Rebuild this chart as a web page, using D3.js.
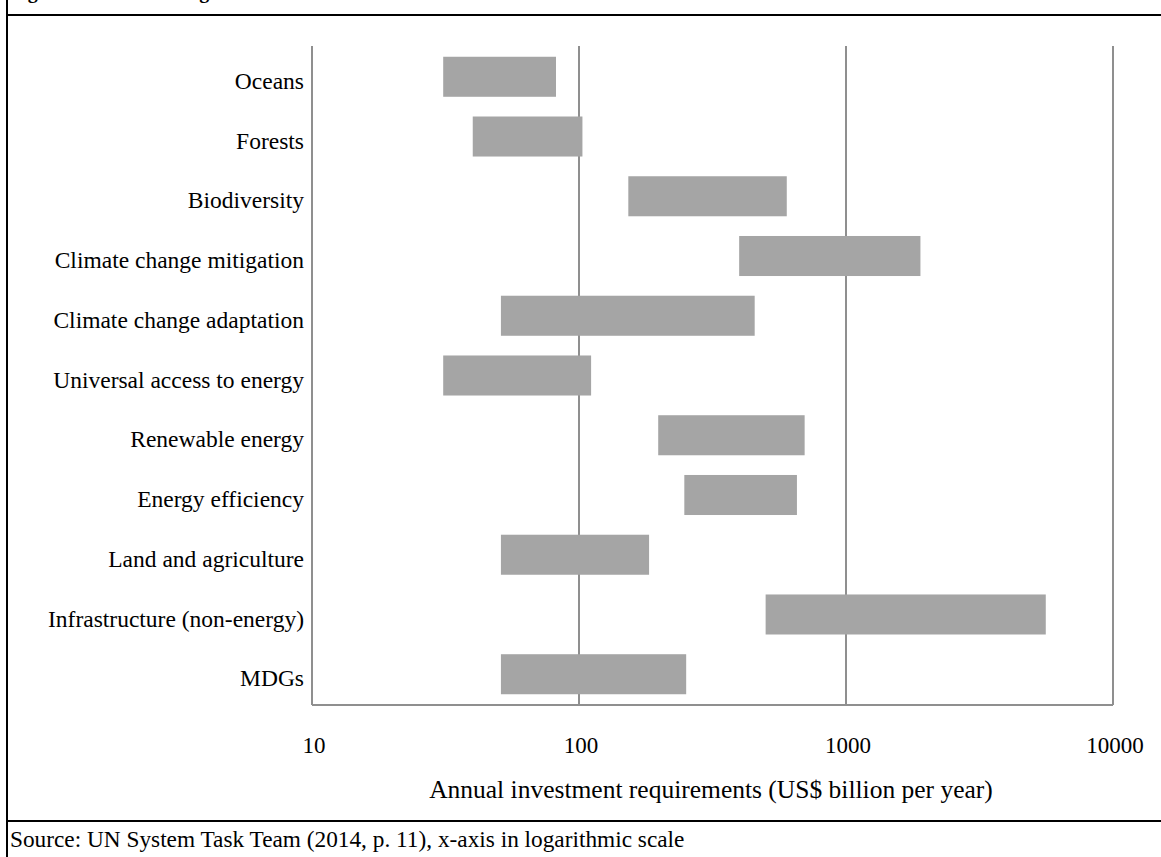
<!DOCTYPE html>
<html><head><meta charset="utf-8">
<script src="https://cdn.jsdelivr.net/npm/d3@7"></script>
<style>body{margin:0;background:#fff}svg{display:block}</style>
</head><body>
<script>
const categories = ["Oceans","Forests","Biodiversity","Climate change mitigation","Climate change adaptation","Universal access to energy","Renewable energy","Energy efficiency","Land and agriculture","Infrastructure (non-energy)","MDGs"];
const lowValues  = [31, 40, 153, 398, 51, 31, 198, 248, 51, 500, 51];
const highValues = [82, 103, 600, 1900, 455, 111, 700, 655, 183, 5600, 252];
const tickValues = [10, 100, 1000, 10000];
const titleText = "Figure 1: Order of magnitude of investment needs from the literature";
const axisTitle = "Annual investment requirements (US$ billion per year)";
const sourceText = "Source: UN System Task Team (2014, p. 11), x-axis in logarithmic scale";

const W = 1161, H = 857;
const svg = d3.select("body").append("svg").attr("width", W).attr("height", H);
const font = "'Liberation Serif','Times New Roman',serif";

// frame
svg.append("text").attr("x", 10).attr("y", -2).attr("font-family", font).attr("font-weight", "bold").attr("font-size", 20).attr("fill", "#000").text(titleText);
svg.append("line").attr("x1", 7).attr("x2", 7).attr("y1", 0).attr("y2", H).attr("stroke", "#000").attr("stroke-width", 2);
svg.append("line").attr("x1", 7).attr("x2", W).attr("y1", 15).attr("y2", 15).attr("stroke", "#000").attr("stroke-width", 2);
svg.append("line").attr("x1", 7).attr("x2", W).attr("y1", 821).attr("y2", 821).attr("stroke", "#000").attr("stroke-width", 2);

const x = d3.scaleLog().domain([10, 10000]).range([312, 1113]);
const y = d3.scaleBand().domain(categories).range([46, 705]).paddingInner(0.33).paddingOuter(0.18);

// gridlines
svg.append("g").selectAll("line").data(tickValues).join("line")
  .attr("x1", d => x(d)).attr("x2", d => x(d)).attr("y1", 46).attr("y2", 705)
  .attr("stroke", "#8f8f8f").attr("stroke-width", 2);
svg.append("line").attr("x1", x(10)).attr("x2", x(10000)).attr("y1", 705).attr("y2", 705)
  .attr("stroke", "#8f8f8f").attr("stroke-width", 2);

// bars
svg.append("g").selectAll("rect").data(categories).join("rect")
  .attr("x", (d, i) => x(lowValues[i]))
  .attr("width", (d, i) => x(highValues[i]) - x(lowValues[i]))
  .attr("y", d => y(d)).attr("height", y.bandwidth())
  .attr("fill", "#a5a5a5");

// category labels
svg.append("g").selectAll("text").data(categories).join("text")
  .attr("x", 304).attr("y", d => y(d) + y.bandwidth() / 2 + 4).attr("dy", "0.35em")
  .attr("text-anchor", "end").attr("font-family", font).attr("font-size", 23.5).attr("fill", "#000")
  .text(d => d);

// tick labels
svg.append("g").selectAll("text").data(tickValues).join("text")
  .attr("x", d => x(d) + 2).attr("y", 753).attr("text-anchor", "middle")
  .attr("font-family", font).attr("font-size", 23).attr("fill", "#000")
  .text(d => d3.format("d")(d));

svg.append("text").attr("x", 711).attr("y", 798).attr("text-anchor", "middle")
  .attr("font-family", font).attr("font-size", 25.5).attr("fill", "#000").text(axisTitle);

svg.append("text").attr("x", 10).attr("y", 847)
  .attr("font-family", font).attr("font-size", 23.3).attr("fill", "#000").text(sourceText);
</script>
</body></html>
